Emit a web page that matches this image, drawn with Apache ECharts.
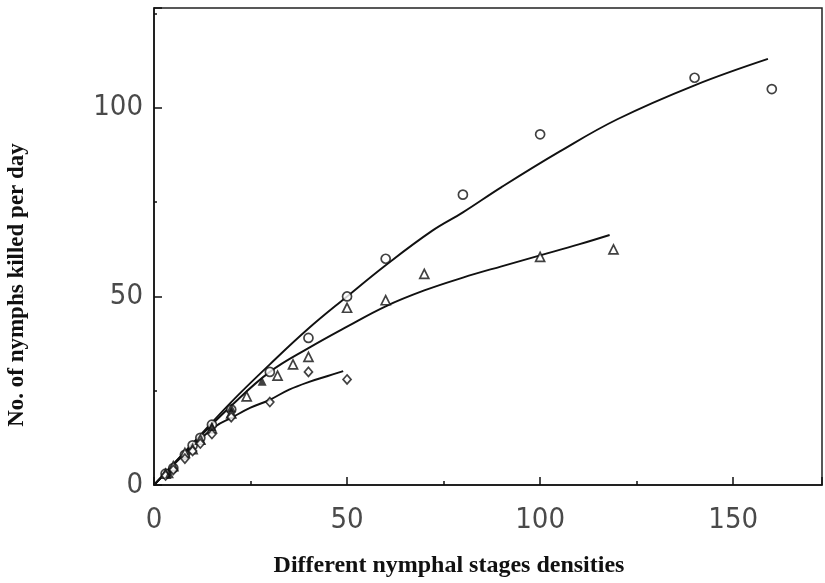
<!DOCTYPE html>
<html><head><meta charset="utf-8">
<script src="https://cdn.jsdelivr.net/npm/echarts@6/dist/echarts.min.js"></script>
<style>html,body{margin:0;padding:0;background:#fff}#c{width:825px;height:583px}</style>
</head><body><div id="c"></div>
<script>
// ---- data ----
const xTickLabels = [0, 50, 100, 150];
const yTickLabels = [0, 50, 100];
const circleData = [[3,3],[5,4.5],[8,8],[10,10.5],[12,12.5],[15,16],[20,20],[30,30],[40,39],[50,50],[60,60],[80,77],[100,93],[140,108],[160,105]];
const triangleData = [[3,3],[5,5],[8,8.5],[10,9.5],[12,12],[15,15],[20,19],[24,23.5],[32,29],[36,32],[40,34],[50,47],[60,49],[70,56],[100,60.5],[119,62.5]];
const filledData = [[28,27.5],[20,20.5],[15,15.5],[4,3]];
const diamondData = [[3,2.5],[5,4],[8,7],[10,9],[12,11],[15,13.5],[20,18],[30,22],[40,30],[50,28]];
const curveCircle = [[0,0],[10,11],[20,22],[30,32],[40,41.5],[50,50],[60,58.3],[72,67.4],[80,72.3],[90,79],[105,88.4],[120,97],[140,106],[159,113]];
const curveTriangle = [[0,0],[10,10.8],[20,21],[30,30],[40,36.3],[50,42],[60,47.4],[70,51.6],[80,55],[90,58],[100,60.9],[110,63.8],[118,66.3]];
const curveDiamond = [[0,0],[10,10.3],[16,15.6],[20,17.8],[25,20.5],[30,22.6],[35,25.3],[40,27.3],[45,28.9],[49,30.2]];
const xMax = 173, yMax = 126.5;

const chart = echarts.init(document.getElementById('c'), null, {renderer: 'canvas'});
const tickFont = {fontFamily: 'DejaVu Sans Condensed', fontSize: 29, color: '#4a4a4a', fontWeight: 'normal'};
const lab = (arr) => (v) => arr.indexOf(v) >= 0 ? String(v) : '';
const lineS = {color: '#111', width: 1.5};
const markerStyle = {color: '#fff', borderColor: '#111', borderWidth: 1.7};

chart.setOption({
  animation: false,
  backgroundColor: '#fff',
  grid: {left: 154, right: 2, top: 8, bottom: 98, show: true, borderColor: '#222', borderWidth: 1.5, backgroundColor: 'transparent'},
  xAxis: [
    {type: 'value', min: 0, max: xMax, interval: 25, position: 'bottom',
     axisLine: {show: true, lineStyle: lineS},
     axisTick: {show: true, inside: true, length: 4, lineStyle: lineS},
     axisLabel: Object.assign({margin: 21, formatter: lab(xTickLabels)}, tickFont),
     splitLine: {show: false}},
    {type: 'value', min: 0, max: xMax, interval: 50, position: 'bottom',
     axisLine: {show: false},
     axisTick: {show: true, inside: true, length: 8, lineStyle: lineS},
     axisLabel: {show: false}, splitLine: {show: false}}
  ],
  yAxis: [
    {type: 'value', min: 0, max: yMax, interval: 25, position: 'left',
     axisLine: {show: true, lineStyle: lineS},
     axisTick: {show: true, inside: true, length: 3, lineStyle: lineS},
     axisLabel: Object.assign({margin: 11, formatter: lab(yTickLabels)}, tickFont),
     splitLine: {show: false}},
    {type: 'value', min: 0, max: yMax, interval: 50, position: 'left',
     axisLine: {show: false},
     axisTick: {show: true, inside: true, length: 8, lineStyle: lineS},
     axisLabel: {show: false}, splitLine: {show: false}}
  ],
  graphic: [
    {type: 'text', x: 449, y: 566,
     style: {text: 'Different nymphal stages densities', font: 'bold 24px "Liberation Serif"', fill: '#111', align: 'center', verticalAlign: 'middle'}},
    {type: 'text', x: 17, y: 285, rotation: Math.PI / 2,
     style: {text: 'No. of nymphs killed per day', font: 'bold 23px "Liberation Serif"', fill: '#111', align: 'center', verticalAlign: 'middle'}}
  ],
  series: [
    {type: 'line', data: curveCircle, smooth: 0.4, showSymbol: false, lineStyle: {color: '#111', width: 1.9}, z: 2},
    {type: 'line', data: curveTriangle, smooth: 0.4, showSymbol: false, lineStyle: {color: '#111', width: 1.9}, z: 2},
    {type: 'line', data: curveDiamond, smooth: 0.4, showSymbol: false, lineStyle: {color: '#111', width: 1.9}, z: 2},
    {type: 'scatter', data: circleData, symbol: 'circle', symbolSize: 9, itemStyle: markerStyle, z: 3},
    {type: 'scatter', data: triangleData, symbol: 'triangle', symbolSize: 9, itemStyle: markerStyle, z: 3},
    {type: 'scatter', data: diamondData, symbol: 'diamond', symbolSize: [8, 9], itemStyle: markerStyle, z: 3},
    {type: 'scatter', data: filledData, symbol: 'triangle', symbolSize: 9, itemStyle: {color: '#111'}, z: 4}
  ]
});
</script></body></html>
